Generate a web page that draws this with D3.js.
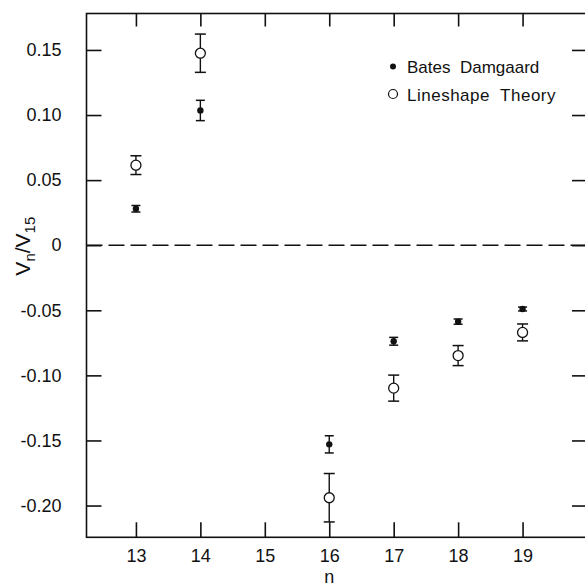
<!DOCTYPE html>
<html>
  <head>
    <meta charset="utf-8">
    <title>Vn/V15</title>
    <script src="https://cdnjs.cloudflare.com/ajax/libs/d3/7.8.5/d3.min.js"></script>
    <style>
      body { margin: 0; background: #fff; }
      text { font-family: "Liberation Sans", Arial, sans-serif; fill: #111; }
    </style>
  </head>
  <body>
    <script>
      // values
      var nValues = [13, 14, 16, 17, 18, 19];
      var batesValues = [0.028, 0.1035, -0.153, -0.0738, -0.0587, -0.049];
      var batesErrors = [0.0025, 0.0078, 0.0066, 0.003, 0.002, 0.0015];
      var lineshapeValues = [0.0615, 0.1475, -0.194, -0.1098, -0.0848, -0.067];
      var lineshapeErrors = [0.0072, 0.0147, 0.0186, 0.0100, 0.0077, 0.0065];

      var xTicks = [13, 14, 15, 16, 17, 18, 19];
      var yTicks = [0.15, 0.10, 0.05, 0, -0.05, -0.10, -0.15, -0.20];
      var yTickLabels = ["0.15", "0.10", "0.05", "0", "-0.05", "-0.10", "-0.15", "-0.20"];
      var legendLabels = ["Bates  Damgaard", "Lineshape  Theory"];

      var width = 585, height = 586;
      var plotLeft = 86.5, plotRight = 587, plotTop = 13.5, plotBottom = 537.3;

      var svg = d3.select("body").append("svg")
        .attr("width", width)
        .attr("height", height);

      var x = d3.scaleLinear().domain([12.233, 20]).range([plotLeft, plotRight]);
      var y = d3.scaleLinear().domain([-0.2244, 0.178]).range([plotBottom, plotTop]);

      // frame
      svg.append("rect")
        .attr("x", plotLeft).attr("y", plotTop)
        .attr("width", plotRight - plotLeft).attr("height", plotBottom - plotTop)
        .attr("fill", "none").attr("stroke", "#111").attr("stroke-width", 1.6);

      // bottom axis: ticks point inward
      var xAxis = d3.axisBottom(x).tickValues(xTicks).tickSize(-15).tickPadding(19)
        .tickFormat(d3.format("d"));
      var gx = svg.append("g").attr("transform", "translate(0," + plotBottom + ")").call(xAxis);
      gx.select(".domain").remove();
      gx.selectAll("line").attr("stroke", "#111").attr("stroke-width", 1.6);
      gx.selectAll("text").attr("font-size", 18).attr("fill", "#111")
        .attr("dy", "0.3em");

      // top ticks
      var gt = svg.append("g").attr("transform", "translate(0," + plotTop + ")")
        .call(d3.axisTop(x).tickValues(xTicks).tickSize(-13).tickFormat(""));
      gt.select(".domain").remove();
      gt.selectAll("line").attr("stroke", "#111").attr("stroke-width", 1.6);

      // left axis
      var yAxis = d3.axisLeft(y).tickValues(yTicks).tickSize(-15).tickPadding(25)
        .tickFormat(function (d, i) { return yTickLabels[i]; });
      var gy = svg.append("g").attr("transform", "translate(" + plotLeft + ",0)").call(yAxis);
      gy.select(".domain").remove();
      gy.selectAll("line").attr("stroke", "#111").attr("stroke-width", 1.6);
      gy.selectAll("text").attr("font-size", 18).attr("fill", "#111");

      // right ticks
      var gr = svg.append("g").attr("transform", "translate(" + plotRight + ",0)")
        .call(d3.axisRight(y).tickValues(yTicks).tickSize(-15).tickFormat(""));
      gr.select(".domain").remove();
      gr.selectAll("line").attr("stroke", "#111").attr("stroke-width", 1.6);

      // zero line
      svg.append("line")
        .attr("x1", plotLeft).attr("x2", plotRight)
        .attr("y1", y(0)).attr("y2", y(0))
        .attr("stroke", "#111").attr("stroke-width", 1.4)
        .attr("stroke-dasharray", "16,6");

      // axis titles
      svg.append("text")
        .attr("x", x(16)).attr("y", 583)
        .attr("text-anchor", "middle").attr("font-size", 18)
        .text("n");

      var yt = svg.append("text")
        .attr("transform", "translate(30," + (y(0) + 1) + ") rotate(-90)")
        .attr("text-anchor", "middle").attr("font-size", 21);
      yt.append("tspan").text("V");
      yt.append("tspan").attr("font-size", 15).attr("dy", 5).text("n");
      yt.append("tspan").attr("dy", -5).text("/V");
      yt.append("tspan").attr("font-size", 15).attr("dy", 5).text("15");

      // error bars + points
      function series(values, errors, cap) {
        var data = nValues.map(function (n, i) { return { n: n, v: values[i], e: errors[i] }; });
        var g = svg.append("g");
        g.selectAll(".stem").data(data).enter().append("line")
          .attr("x1", function (d) { return x(d.n); })
          .attr("x2", function (d) { return x(d.n); })
          .attr("y1", function (d) { return y(d.v + d.e); })
          .attr("y2", function (d) { return y(d.v - d.e); })
          .attr("stroke", "#111").attr("stroke-width", 1.4);
        [1, -1].forEach(function (s) {
          g.selectAll(".cap" + s).data(data).enter().append("line")
            .attr("x1", function (d) { return x(d.n) - cap; })
            .attr("x2", function (d) { return x(d.n) + cap; })
            .attr("y1", function (d) { return y(d.v + s * d.e); })
            .attr("y2", function (d) { return y(d.v + s * d.e); })
            .attr("stroke", "#111").attr("stroke-width", 1.5);
        });
        return g.selectAll("circle").data(data).enter().append("circle")
          .attr("cx", function (d) { return x(d.n); })
          .attr("cy", function (d) { return y(d.v); });
      }

      series(lineshapeValues, lineshapeErrors, 5.5)
        .attr("r", 5).attr("fill", "#fff").attr("stroke", "#111").attr("stroke-width", 1.3);
      series(batesValues, batesErrors, 4.5)
        .attr("r", 3.2).attr("fill", "#111");

      // legend
      var legend = svg.append("g");
      legend.append("circle").attr("cx", 393).attr("cy", 66.5).attr("r", 3).attr("fill", "#111");
      legend.append("circle").attr("cx", 393).attr("cy", 94).attr("r", 4.5)
        .attr("fill", "#fff").attr("stroke", "#111").attr("stroke-width", 1.2);
      legend.selectAll("text").data(legendLabels).enter().append("text")
        .attr("x", 407)
        .attr("y", function (d, i) { return 73 + i * 27.5; })
        .attr("font-size", 17)
        .attr("letter-spacing", function (d, i) { return i ? 0.5 : 0; })
        .style("white-space", "pre")
        .text(function (d) { return d; });
    </script>
  </body>
</html>
